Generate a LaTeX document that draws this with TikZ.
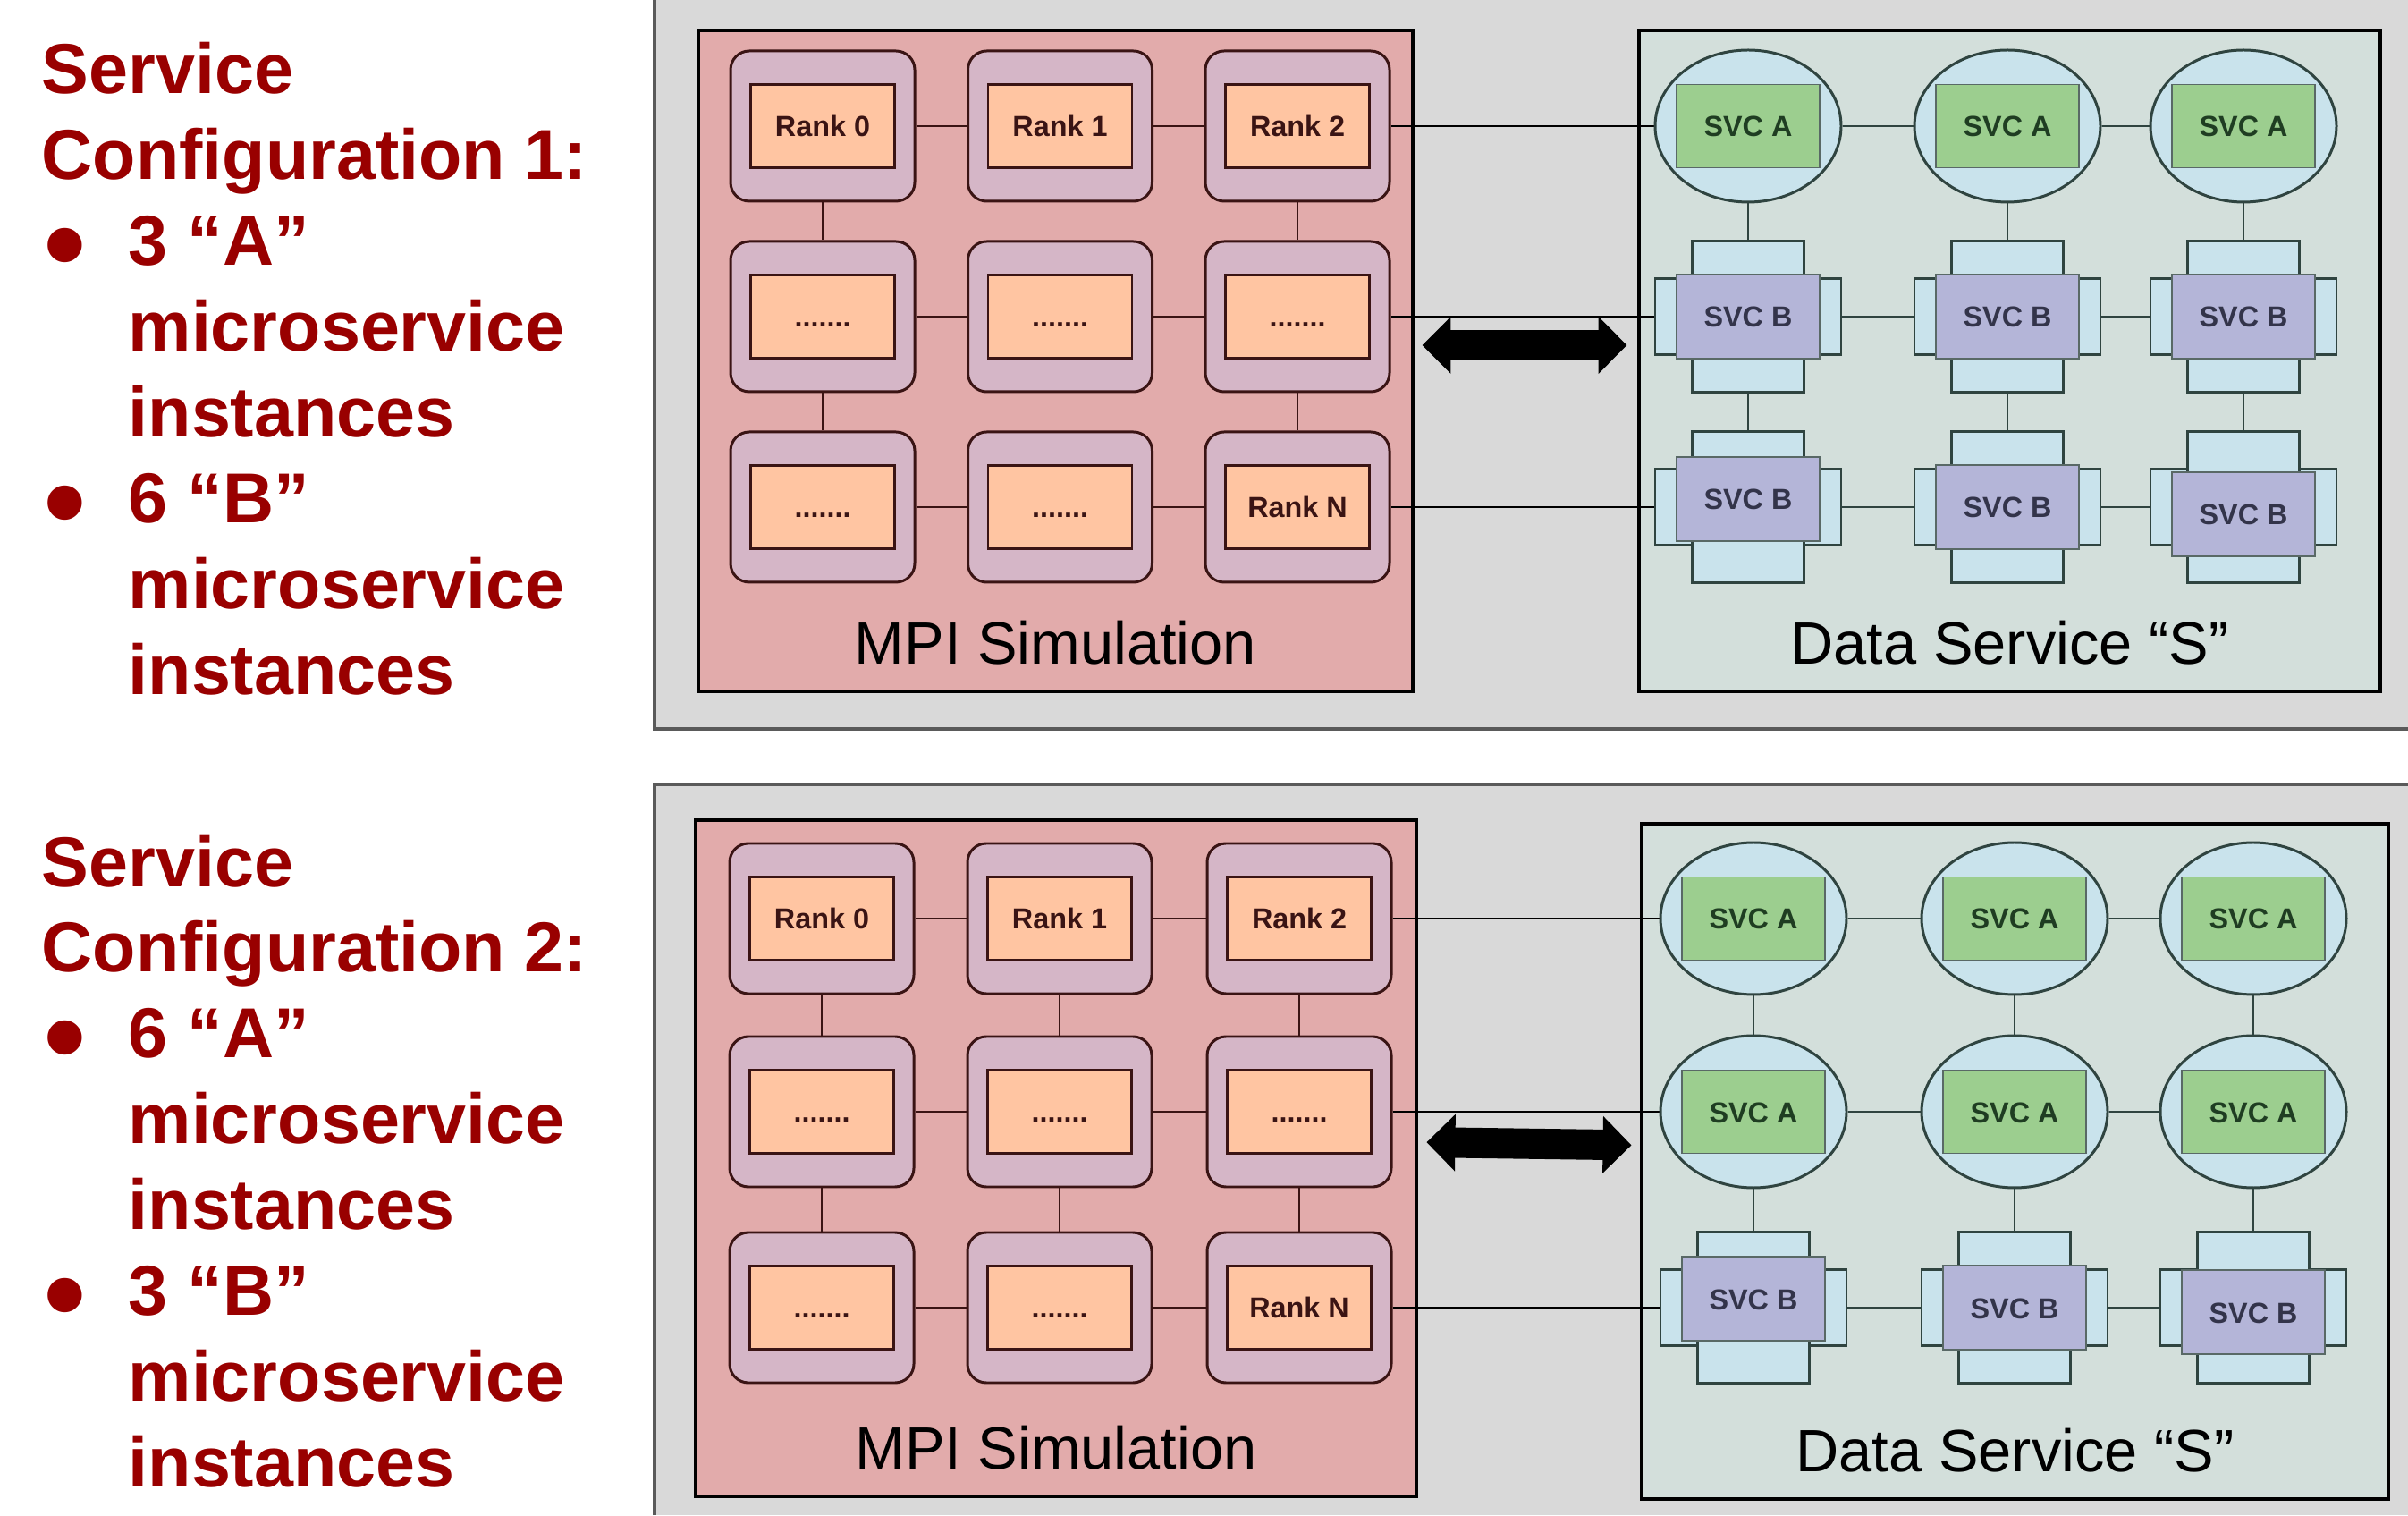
\documentclass[tikz,border=0pt]{standalone}
\usepackage{fontspec}
\setmainfont{Liberation Sans}
\usetikzlibrary{shapes,arrows.meta,positioning}
\definecolor{panelgray}{HTML}{D9D9D9}
\definecolor{panelline}{HTML}{5A5A5A}
\definecolor{mpifill}{HTML}{E2ABAB}
\definecolor{rankouter}{HTML}{D5B6C7}
\definecolor{rankinner}{HTML}{FFC5A2}
\definecolor{rankline}{HTML}{3A1414}
\definecolor{dsfill}{HTML}{D3DFDB}
\definecolor{svcblue}{HTML}{C9E3EC}
\definecolor{svcgreen}{HTML}{9CCE8F}
\definecolor{svcpurple}{HTML}{B4B5D8}
\definecolor{svcline}{HTML}{2F4440}
\definecolor{svcatext}{HTML}{1F3D22}
\definecolor{svcbtext}{HTML}{33344A}
\definecolor{cfgred}{HTML}{990000}
\pgfdeclarelayer{back}
\pgfdeclarelayer{wires}
\pgfsetlayers{back,wires,main}
\def\Dots{.......}
\def\itm{\makebox[0.97cm][l]{\hspace{0.03cm}\raisebox{-0.22cm}{\fontsize{38}{0}\selectfont\textbullet}}}
\def\ind{\hspace*{0.97cm}}

\begin{document}
\begin{tikzpicture}[% styles for the whole picture
    every node/.style={inner sep=0pt},
    on grid,
    cfg/.style={anchor=north west, align=left, text=cfgred,
      font=\bfseries\fontsize{22.5}{27.3}\selectfont},
    mpibox/.style={draw=black, line width=1.4pt, fill=mpifill},
    dsbox/.style={draw=black, line width=1.4pt, fill=dsfill},
    title/.style={font=\fontsize{19}{23}\selectfont},
    rank/.style={draw=rankline, line width=0.85pt, fill=rankouter, rounded corners=0.21cm,
      minimum width=2.06cm, minimum height=1.68cm, label={[rankbox]center:#1}},
    rankbox/.style={draw=rankline, line width=0.6pt, fill=rankinner, sharp corners,
      minimum width=1.61cm, minimum height=0.93cm, text=rankline,
      font=\bfseries\fontsize{9.2}{11}\selectfont, text height=0.23cm, text depth=0pt},
    svca/.style={ellipse, draw=svcline, line width=0.85pt, fill=svcblue,
      minimum width=2.08cm, minimum height=1.70cm, label={[svcabox]center:SVC A}},
    svcabox/.style={draw=svcline!80, line width=0.55pt, fill=svcgreen,
      minimum width=1.60cm, minimum height=0.93cm, text=svcatext,
      font=\bfseries\fontsize{9.2}{11}\selectfont, text height=0.24cm, text depth=0pt},
    armh/.style={draw=svcline, line width=0.8pt, fill=svcblue, minimum width=2.08cm, minimum height=0.85cm},
    armv/.style={draw=svcline, line width=0.8pt, fill=svcblue, minimum width=1.25cm, minimum height=1.69cm},
    svcb/.style={armh, label={[armv]center:}, label={[svcbbox,yshift=#1]center:SVC B}},
    svcb/.default=0cm,
    svcbbox/.style={draw=svcline!80, line width=0.55pt, fill=svcpurple,
      minimum width=1.60cm, minimum height=0.94cm, text=svcbtext,
      font=\bfseries\fontsize{9.2}{11}\selectfont, text height=0.24cm, text depth=0pt},
    wire/.style={draw=rankline, line width=0.55pt},
    svcwire/.style={draw=svcline, line width=0.55pt},
    link/.style={draw=black, line width=0.55pt},
    biarrow/.style={line width=0.34cm, >={Triangle[length=0.32cm,width=0.62cm]}, <->}
  ]
  \useasboundingbox (0,0) rectangle (26.93,16.94);

  % panels and the two big boxes
  \begin{pgfonlayer}{back}
    \fill[white] (0,0) rectangle (26.93,16.94);
    \fill[panelgray] (7.32,8.79) rectangle (26.93,16.94);
    \draw[draw=panelline, line width=1.1pt] (7.32,16.94) |- (26.93,8.79);
    \fill[panelgray] (7.32,0) rectangle (26.93,8.17);
    \draw[draw=panelline, line width=1.1pt] (7.32,0) |- (26.93,8.17);
    \node[mpibox, minimum width=7.99cm, minimum height=7.39cm] (tmpi) at (11.805,12.905) {};
    \node[dsbox, minimum width=8.29cm, minimum height=7.39cm] (tds) at (22.475,12.905) {};
    \node[mpibox, minimum width=8.06cm, minimum height=7.56cm] (bmpi) at (11.81,3.99) {};
    \node[dsbox, minimum width=8.35cm, minimum height=7.55cm] (bds) at (22.535,3.955) {};
  \end{pgfonlayer}

  % configuration texts
  \node[cfg] (cfg1) at (0.46,16.47) {Service\\Configuration 1:\\\itm 3 “A”\\\ind microservice\\\ind instances\\\itm 6 “B”\\\ind microservice\\\ind instances};
  \node[cfg] (cfg2) at (0.46,7.61) {Service\\Configuration 2:\\\itm 6 “A”\\\ind microservice\\\ind instances\\\itm 3 “B”\\\ind microservice\\\ind instances};

  % configuration 1: MPI ranks
  \node[rank=Rank 0] (tr11) at (9.20,15.53) {};
  \node[rank=Rank 1, right=2.655cm of tr11] (tr12) {};
  \node[rank=Rank 2, right=2.655cm of tr12] (tr13) {};
  \node[rank=\Dots, below=2.13cm of tr11] (tr21) {};
  \node[rank=\Dots, below=2.13cm of tr12] (tr22) {};
  \node[rank=\Dots, below=2.13cm of tr13] (tr23) {};
  \node[rank=\Dots, below=2.13cm of tr21] (tr31) {};
  \node[rank=\Dots, below=2.13cm of tr22] (tr32) {};
  \node[rank=Rank N, below=2.13cm of tr23] (tr33) {};
  \node[title] (tmpit) at ([yshift=0.57cm]tmpi.south) {MPI Simulation};

  % configuration 1: data service
  \node[svca] (ts11) at (19.55,15.53) {};
  \node[svca, right=2.90cm of ts11] (ts12) {};
  \node[svca, right=2.64cm of ts12] (ts13) {};
  \node[svcb, below=2.13cm of ts11] (ts21) {};
  \node[svcb, below=2.13cm of ts12] (ts22) {};
  \node[svcb, below=2.13cm of ts13] (ts23) {};
  \node[svcb=0.09cm, below=2.13cm of ts21] (ts31) {};
  \node[svcb, below=2.13cm of ts22] (ts32) {};
  \node[svcb=-0.08cm, below=2.13cm of ts23] (ts33) {};
  \node[title] (tdst) at ([yshift=0.57cm]tds.south) {Data Service “S”};

  % configuration 2: MPI ranks
  \node[rank=Rank 0] (br11) at (9.19,6.67) {};
  \node[rank=Rank 1, right=2.66cm of br11] (br12) {};
  \node[rank=Rank 2, right=2.68cm of br12] (br13) {};
  \node[rank=\Dots, below=2.16cm of br11] (br21) {};
  \node[rank=\Dots, below=2.16cm of br12] (br22) {};
  \node[rank=\Dots, below=2.16cm of br13] (br23) {};
  \node[rank=\Dots, below=2.19cm of br21] (br31) {};
  \node[rank=\Dots, below=2.19cm of br22] (br32) {};
  \node[rank=Rank N, below=2.19cm of br23] (br33) {};
  \node[title] (bmpit) at ([yshift=0.57cm]bmpi.south) {MPI Simulation};

  % configuration 2: data service
  \node[svca] (bs11) at (19.61,6.67) {};
  \node[svca, right=2.92cm of bs11] (bs12) {};
  \node[svca, right=2.67cm of bs12] (bs13) {};
  \node[svca, below=2.16cm of bs11] (bs21) {};
  \node[svca, below=2.16cm of bs12] (bs22) {};
  \node[svca, below=2.16cm of bs13] (bs23) {};
  \node[svcb=0.10cm, below=2.19cm of bs21] (bs31) {};
  \node[svcb, below=2.19cm of bs22] (bs32) {};
  \node[svcb=-0.05cm, below=2.19cm of bs23] (bs33) {};
  \node[title] (bdst) at ([yshift=0.57cm]bds.south) {Data Service “S”};

  % connectors, kept behind the nodes
  \begin{pgfonlayer}{wires}
    \path[wire]
      (tr11) edge (tr12) edge (tr21)
      (tr12) edge (tr13) edge (tr22)
      (tr13) edge (tr23)
      (tr21) edge (tr22) edge (tr31)
      (tr22) edge (tr23) edge (tr32)
      (tr23) edge (tr33)
      (tr31) edge (tr32)
      (tr32) edge (tr33)
      (br11) edge (br12) edge (br21)
      (br12) edge (br13) edge (br22)
      (br13) edge (br23)
      (br21) edge (br22) edge (br31)
      (br22) edge (br23) edge (br32)
      (br23) edge (br33)
      (br31) edge (br32)
      (br32) edge (br33);
    \path[svcwire]
      (ts11) edge (ts12) edge (ts21)
      (ts12) edge (ts13) edge (ts22)
      (ts13) edge (ts23)
      (ts21) edge (ts22) edge (ts31)
      (ts22) edge (ts23) edge (ts32)
      (ts23) edge (ts33)
      (ts31) edge (ts32)
      (ts32) edge (ts33)
      (bs11) edge (bs12) edge (bs21)
      (bs12) edge (bs13) edge (bs22)
      (bs13) edge (bs23)
      (bs21) edge (bs22) edge (bs31)
      (bs22) edge (bs23) edge (bs32)
      (bs23) edge (bs33)
      (bs31) edge (bs32)
      (bs32) edge (bs33);
    \path[link]
      (tr13) edge (ts11)
      (tr23) edge (ts21)
      (tr33) edge (ts31)
      (br13) edge (bs11)
      (br23) edge (bs21)
      (br33) edge (bs31);
  \end{pgfonlayer}

  % the two-way arrows between simulation and service
  \draw[biarrow, shorten <=0.08cm, shorten >=0.11cm] ([yshift=0.175cm]tmpi.east) -- ([yshift=0.175cm]tds.west);
  \draw[biarrow, shorten <=0.09cm, shorten >=0.09cm] ([yshift=0.18cm]bmpi.east) -- ([yshift=0.18cm]bds.west);
\end{tikzpicture}
\end{document}
